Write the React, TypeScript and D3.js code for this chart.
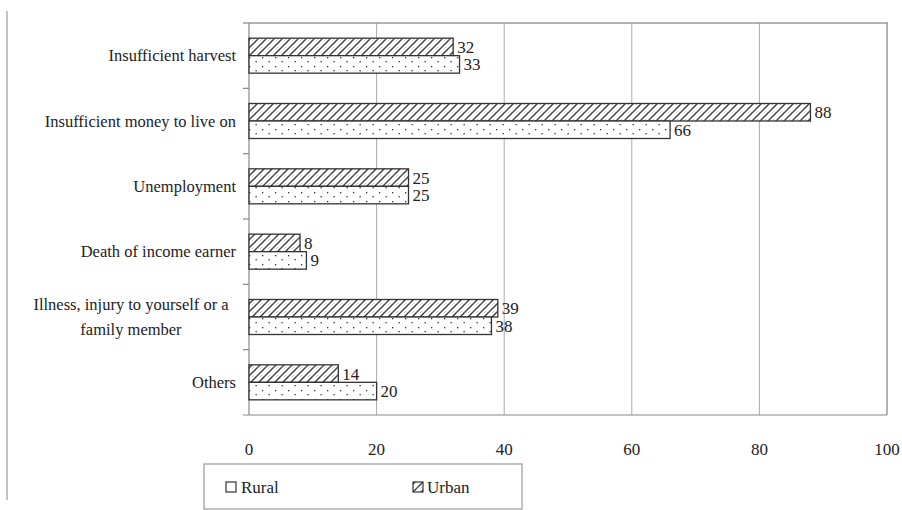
import React from "react";
import * as d3 from "d3";

const categories = [
  ["Insufficient harvest"],
  ["Insufficient money to live on"],
  ["Unemployment"],
  ["Death of income earner"],
  ["Illness, injury to yourself or a", "family member"],
  ["Others"],
];
const urbanValues = [32, 88, 25, 8, 39, 14];
const ruralValues = [33, 66, 25, 9, 38, 20];
const xTicks = [0, 20, 40, 60, 80, 100];

const W = 902, H = 510;
const left = 249, right = 887, top = 23, bottom = 415;
const font = "Liberation Serif, Tinos, Times New Roman, DejaVu Serif, serif";

export default function App() {
  const x = d3.scaleLinear().domain([0, 100]).range([left, right]);
  const y = d3.scaleBand().domain(categories.map((_, i) => String(i))).range([top, bottom]);
  const barH = 17.5;
  const ts = { fontFamily: font } as React.CSSProperties;
  return (
    <svg width={W} height={H} style={{ position: "absolute", left: 0, top: 0, background: "#fff", fontFamily: font }}>
      <defs>
        <pattern id="hatch" width="8" height="8" patternUnits="userSpaceOnUse" patternTransform="translate(0,1)">
          <rect width="8" height="8" fill="#fff" />
          <path d="M-1,9 L9,-1 M-1,1 L1,-1 M7,9 L9,7" stroke="#333" strokeWidth="1.3" />
          <path d="M0.5,7.5 L2.5,5.5 M4.5,7.5 L5.5,6.5" stroke="#666" strokeWidth="0.8" />
        </pattern>
        <pattern id="dots" width="13" height="9" patternUnits="userSpaceOnUse" patternTransform="translate(0,1)">
          <rect width="13" height="9" fill="#fff" />
          <rect x="2" y="2" width="1.3" height="1.3" fill="#333" />
          <rect x="8.5" y="6" width="1.3" height="1.3" fill="#333" />
        </pattern>
      </defs>
      <line x1={7} x2={7} y1={11} y2={500} stroke="#999" strokeWidth={1.2} />
      {xTicks.slice(1, -1).map((t) => (
        <line key={t} x1={x(t)} x2={x(t)} y1={top} y2={bottom} stroke="#aaa" strokeWidth={1} />
      ))}
      <line x1={left} x2={right + 1} y1={top} y2={top} stroke="#999" strokeWidth={1.5} />
      <line x1={right} x2={right} y1={top} y2={bottom} stroke="#999" strokeWidth={1.5} />
      <line x1={left} x2={left} y1={top} y2={bottom} stroke="#888" strokeWidth={1.2} />
      <line x1={left - 6} x2={right} y1={bottom} y2={bottom} stroke="#888" strokeWidth={1.2} />
      {categories.map((_, i) => (
        <line key={"t" + i} x1={left - 6} x2={left} y1={y(String(i))!} y2={y(String(i))!} stroke="#888" strokeWidth={1.2} />
      ))}
      {categories.map((lines, i) => {
        const cy = y(String(i))! + y.bandwidth() / 2;
        const uy = cy - barH;
        const ry = cy;
        const lh = 25;
        const multi = lines.length > 1;
        return (
          <g key={i}>
            <rect x={x(0)} y={uy} width={x(urbanValues[i]) - x(0)} height={barH} fill="url(#hatch)" stroke="#333" strokeWidth={1.3} />
            <rect x={x(0)} y={ry} width={x(ruralValues[i]) - x(0)} height={barH} fill="url(#dots)" stroke="#333" strokeWidth={1.3} />
            <text x={x(urbanValues[i]) + 4} y={uy + barH / 2} dy="0.35em" style={ts} fontSize={17} fill="#222">{urbanValues[i]}</text>
            <text x={x(ruralValues[i]) + 4} y={ry + barH / 2} dy="0.35em" style={ts} fontSize={17} fill="#222">{ruralValues[i]}</text>
            {lines.map((l, j) => (
              <text key={j}
                x={multi ? 131 : 236}
                y={cy + (j - (lines.length - 1) / 2) * lh}
                dy="0.35em"
                textAnchor={multi ? "middle" : "end"}
                style={ts} fontSize={16.5} fill="#222">{l}</text>
            ))}
          </g>
        );
      })}
      {xTicks.map((t) => (
        <text key={t} x={x(t)} y={449} dy="0.35em" textAnchor="middle" style={ts} fontSize={17} fill="#222">{t}</text>
      ))}
      <rect x={204} y={464} width={318} height={45} fill="#fff" stroke="#999" strokeWidth={1.2} />
      <rect x={226} y={482} width={10} height={10} fill="#fff" stroke="#333" strokeWidth={1.2} />
      <text x={241} y={487} dy="0.35em" style={ts} fontSize={17} fill="#222">Rural</text>
      <rect x={413} y={482} width={10} height={10} fill="url(#hatch)" stroke="#333" strokeWidth={1.2} />
      <text x={427} y={487} dy="0.35em" style={ts} fontSize={17} fill="#222">Urban</text>
    </svg>
  );
}
